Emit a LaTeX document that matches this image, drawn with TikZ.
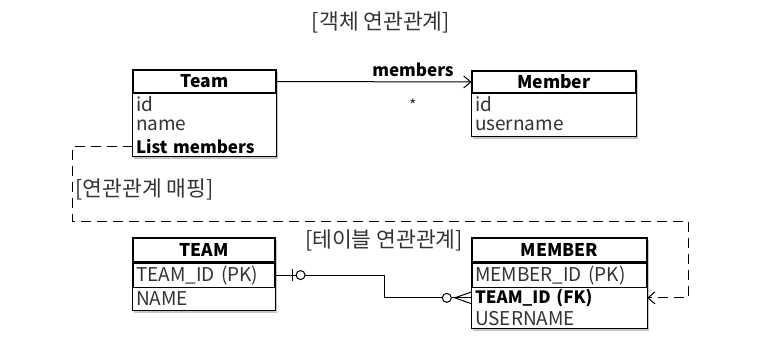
\documentclass[tikz,border=0pt]{standalone}
\usepackage{fontspec}
\setmainfont{Noto Sans CJK KR}
\usetikzlibrary{arrows.meta, positioning, calc, fit, shadows, backgrounds}
\definecolor{ink}{HTML}{333333}

\tikzset{
  hd/.style={draw, line width=1.1pt, inner sep=0pt, font=\fontsize{17.5}{20}\selectfont\bfseries},
  rw/.style={inner xsep=3pt, inner ysep=0pt, align=left, text=ink},
  strong/.style={text=black, font=\fontsize{17}{20}\selectfont\bfseries},
  box/.style={draw, fill=white, line width=1.1pt, inner sep=0pt,
    drop shadow={shadow xshift=1.5pt, shadow yshift=-2.5pt, fill=black!45, opacity=.5}},
  link/.style={line width=1pt},
  title/.style={text=ink, font=\fontsize{21.5}{24}\selectfont},
}

\begin{document}
\begin{tikzpicture}[x=1pt, y=-1pt, font=\fontsize{19}{21}\selectfont,
    >={Straight Barb[length=7pt, width=12pt]}]
\useasboundingbox (0,0) rectangle (782,348);

% object side
\node[title] (objTitle) at (381,22) {[객체 연관관계]};

\node[hd, minimum width=143pt, minimum height=23pt] (team) at (204.5,81.5) {Team};
\node[rw, text width=137pt, minimum height=20.7pt, below=0pt of team] (teamId) {id};
\node[rw, text width=137pt, minimum height=20.7pt, below=0pt of teamId] (teamName) {name};
\node[rw, strong, text width=137pt, minimum height=20.7pt, below=0pt of teamName] (teamList) {List members};

\node[hd, minimum width=164pt, minimum height=22pt] (member) at (554,82) {Member};
\node[rw, text width=158pt, minimum height=21pt, below=0pt of member] (memberId) {id};
\node[rw, text width=158pt, minimum height=21pt, below=0pt of memberId] (memberName) {username};

\draw[link, ->] (team.east) -- (member.west)
  node[pos=.7, above=1pt, strong] (lblMembers) {members}
  node[pos=.7, below=13pt, text=ink, font=\fontsize{16}{18}\selectfont] (lblMany) {*};

% table side
\node[title] (tblTitle) at (384,240) {[테이블 연관관계]};

\node[hd, minimum width=142pt, minimum height=24pt] (tblTeam) at (204,250) {TEAM};
\node[rw, draw, line width=1.1pt, text width=136pt, minimum height=24pt, below=0pt of tblTeam] (teamPk) {TEAM\_ID (PK)};
\node[rw, text width=136pt, minimum height=22pt, below=0pt of teamPk] (teamNm) {NAME};

\node[hd, minimum width=175pt, minimum height=24pt] (tblMember) at (559.5,250) {MEMBER};
\node[rw, draw, line width=1.1pt, text width=169pt, minimum height=24pt, below=0pt of tblMember] (memPk) {MEMBER\_ID (PK)};
\node[rw, strong, text width=169pt, minimum height=20pt, below=0pt of memPk] (memFk) {TEAM\_ID (FK)};
\node[rw, text width=169pt, minimum height=20pt, below=0pt of memFk] (memUser) {USERNAME};

\begin{scope}[on background layer]
  \node[box, fit=(team)(teamList)] (teamBox) {};
  \node[box, fit=(member)(memberName)] (memberBox) {};
  \node[box, fit=(tblTeam)(teamNm)] (tblTeamBox) {};
  \node[box, fit=(tblMember)(memUser)] (tblMemberBox) {};
\end{scope}

% one to many
\draw[link] (teamPk.east) -- ++(109,0) |- (memFk.west);
\draw[link] ([xshift=17pt]teamPk.east) ++(0,-6) -- ++(0,12);
\draw[link, fill=white] ([xshift=25pt]teamPk.east) circle[radius=4.5pt];
\draw[link, fill=white] ([xshift=-25pt]memFk.west) circle[radius=4.5pt];
\draw[link] ([yshift=6pt]memFk.west) -- ([xshift=-17pt]memFk.west) -- ([yshift=-6pt]memFk.west);

% mapping
\node[title, anchor=west] (mapTitle) at (72,189) {[연관관계 매핑]};
\coordinate (bendL) at (72,221);
\coordinate (bendR) at (688,221);
\draw[link, dash pattern=on 10pt off 6pt, ->] (teamList.west) -| (bendL) -- (bendR) |- (memFk.east);
\end{tikzpicture}
\end{document}
